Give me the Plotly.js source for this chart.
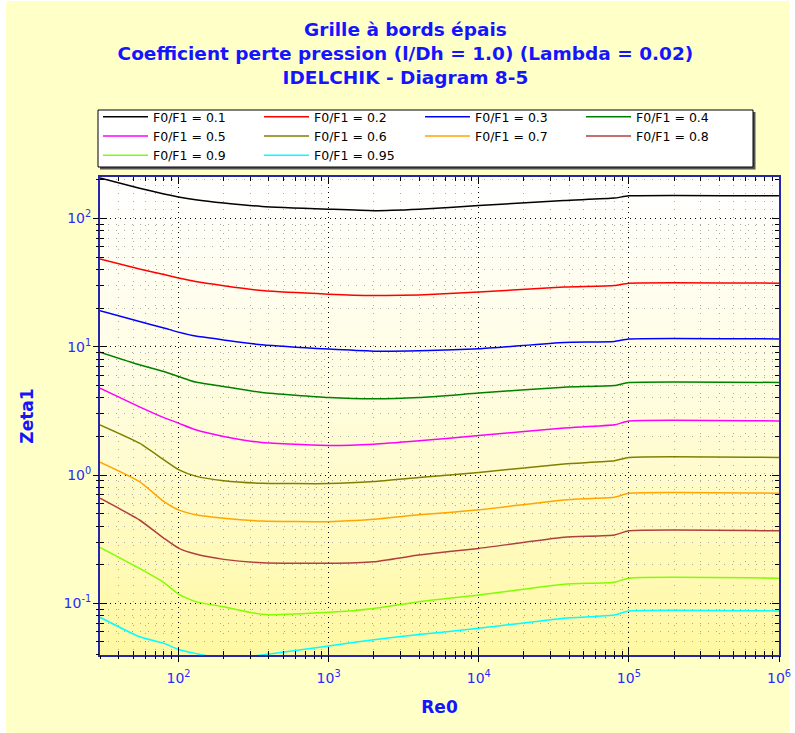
<!DOCTYPE html>
<html>
<head>
<meta charset="utf-8">
<script src="https://cdn.plot.ly/plotly-3.0.1.min.js"></script>
<style>
  html, body { margin:0; padding:0; background:#ffffff; }
  #bg { position:absolute; left:6px; top:1px; width:783px; height:732px; background:#FFFFC8; }
  #pa { position:absolute; left:100px; top:177px; width:679px; height:478px;
        background:linear-gradient(to bottom, #ffffff 0%, #fffde0 45%, #fff8a2 100%); }
  #chart { position:absolute; left:0; top:0; width:795px; height:733px; }
</style>
</head>
<body>
<div id="bg"></div>
<div id="pa"></div>
<div id="chart"></div>
<script>
// ---- data ----
const Re = [30, 55, 80, 100, 130, 200, 360, 1000, 2000, 4000, 10000, 37000, 80000, 100000, 1000000];
const ratioLabels = ['0.1', '0.2', '0.3', '0.4', '0.5', '0.6', '0.7', '0.8', '0.9', '0.95'];
const zeta_01  = [207, 172, 155, 147, 140, 132, 124, 118, 115, 118, 126, 138, 144, 150, 150];
const zeta_02  = [48.2, 40.3, 36.5, 34.3, 32.2, 29.9, 27.4, 25.7, 25.1, 25.3, 26.7, 29.2, 30.0, 31.3, 31.3];
const zeta_03  = [19.1, 15.7, 14.0, 13.0, 12.1, 11.3, 10.35, 9.58, 9.24, 9.3, 9.63, 10.8, 11.0, 11.5, 11.5];
const zeta_04  = [9.08, 7.23, 6.4, 5.86, 5.3, 4.90, 4.40, 4.02, 3.93, 4.02, 4.35, 4.84, 4.98, 5.26, 5.26];
const zeta_05  = [4.76, 3.4, 2.8, 2.54, 2.25, 2.0, 1.79, 1.70, 1.74, 1.85, 2.03, 2.32, 2.46, 2.64, 2.64];
const zeta_06  = [2.46, 1.77, 1.31, 1.10, 0.98, 0.904, 0.863, 0.857, 0.889, 0.955, 1.045, 1.22, 1.29, 1.37, 1.37];
const zeta_07  = [1.26, 0.889, 0.62, 0.535, 0.49, 0.46, 0.438, 0.433, 0.452, 0.489, 0.535, 0.64, 0.671, 0.721, 0.721];
const zeta_08  = [0.659, 0.446, 0.321, 0.269, 0.242, 0.220, 0.207, 0.205, 0.211, 0.238, 0.268, 0.327, 0.341, 0.367, 0.367];
const zeta_09  = [0.273, 0.187, 0.145, 0.118, 0.103, 0.094, 0.082, 0.085, 0.091, 0.103, 0.116, 0.141, 0.146, 0.157, 0.157];
const zeta_095 = [0.0778, 0.0548, 0.0487, 0.0437, 0.0407, 0.037, 0.0395, 0.0465, 0.052, 0.057, 0.0638, 0.0764, 0.0811, 0.0871, 0.0871];
const yTickVals = [0.1, 1, 10, 100];
const yTickText = ['10<sup>-1</sup>', '10<sup>0</sup>', '10<sup>1</sup>', '10<sup>2</sup>'];
const xTickVals = [100, 1000, 10000, 100000, 1000000];
const xTickText = ['10<sup>2</sup>', '10<sup>3</sup>', '10<sup>4</sup>', '10<sup>5</sup>', '10<sup>6</sup>'];

// ---- styles ----
const seriesValues = [zeta_01, zeta_02, zeta_03, zeta_04, zeta_05, zeta_06, zeta_07, zeta_08, zeta_09, zeta_095];
const colors = ['#000000', '#ff0000', '#0000ff', '#008000', '#ff00ff', '#808000', '#ffa500', '#b04040', '#7fff00', '#00ffff'];

const traces = seriesValues.map((vals, i) => ({
  x: Re, y: vals, type: 'scatter', mode: 'lines',
  name: 'F0/F1 = ' + ratioLabels[i],
  line: { color: colors[i], width: 1.5, shape: 'spline', smoothing: 0.5 }
}));
// dummy trace to create overlay axes used for outward tick halves
traces.push({ x: [Re[0]], y: [zeta_01[0]], xaxis: 'x2', yaxis: 'y2', mode: 'lines',
  showlegend: false, hoverinfo: 'skip', line: { color: 'rgba(0,0,0,0)' } });

function minorVals(lo, hi) {
  const v = [];
  for (let e = lo; e < hi; e++) for (let d = 2; d <= 9; d++) v.push(d * Math.pow(10, e));
  return v;
}
const xMinor = minorVals(1, 6).filter(v => v >= 30);
const yMinor = minorVals(-2, 3).filter(v => v >= 0.0395 && v <= 211);

const xr = [Math.log10(30), 6];
const yr = [-1.403, 2.323];
const axisBlue = '#2626a8';
const tickFont = { family: 'DejaVu Sans', size: 14, color: '#2a2aff' };
const titleFont = { family: 'DejaVu Sans', size: 17, color: '#1414ff', weight: 'bold' };

// legend frame (paper coords: plot spans x 100..779 px, y 177..655 px)
const px2x = p => (p - 100) / 679;
const px2y = p => (655 - p) / 478;

const layout = {
  width: 795, height: 733,
  margin: { l: 100, r: 16, t: 177, b: 78, pad: 0 },
  paper_bgcolor: 'rgba(0,0,0,0)', plot_bgcolor: 'rgba(0,0,0,0)',
  font: { family: 'DejaVu Sans', color: '#1414ff' },
  showlegend: true,
  title: {
    text: 'Grille à bords épais<br>Coefficient perte pression (l/Dh = 1.0) (Lambda = 0.02)<br>IDELCHIK - Diagram 8-5',
    font: { family: 'DejaVu Sans', size: 18.5, color: '#1414ff', weight: 'bold' },
    xref: 'container', x: 0.51, xanchor: 'center',
    yref: 'container', y: 0.951, yanchor: 'top'
  },
  shapes: [
    { type: 'rect', xref: 'paper', yref: 'paper', layer: 'above',
      x0: px2x(100), x1: px2x(755.5), y0: px2y(169.5), y1: px2y(112),
      fillcolor: '#555555', line: { width: 0 } },
    { type: 'rect', xref: 'paper', yref: 'paper', layer: 'above',
      x0: px2x(98), x1: px2x(753), y0: px2y(167), y1: px2y(110),
      fillcolor: '#ffffff', line: { color: '#000000', width: 1 } }
  ],
  xaxis: {
    type: 'log', range: xr, autorange: false,
    tickmode: 'array', tickvals: xTickVals, ticktext: xTickText,
    ticks: 'inside', ticklen: 7, tickwidth: 1, tickcolor: '#000',
    tickfont: tickFont, ticklabelstandoff: 9,
    showline: true, linecolor: axisBlue, linewidth: 2, mirror: 'allticks',
    showgrid: true, gridcolor: '#000', gridwidth: 1, griddash: '1px,4px',
    zeroline: false,
    minor: { tickmode: 'array', tickvals: xMinor, ticks: 'inside', ticklen: 4, tickcolor: '#000',
             showgrid: true, gridcolor: '#a8a8a8', gridwidth: 1, griddash: '1px,7px' },
    title: { text: 'Re0', font: titleFont, standoff: 16 }
  },
  yaxis: {
    type: 'log', range: yr, autorange: false,
    tickmode: 'array', tickvals: yTickVals, ticktext: yTickText,
    ticks: 'inside', ticklen: 7, tickwidth: 1, tickcolor: '#000',
    tickfont: tickFont, ticklabelstandoff: 4,
    showline: true, linecolor: axisBlue, linewidth: 2, mirror: 'allticks',
    showgrid: true, gridcolor: '#000', gridwidth: 1, griddash: '1px,4px',
    zeroline: false,
    minor: { tickmode: 'array', tickvals: yMinor, ticks: 'inside', ticklen: 4, tickcolor: '#000',
             showgrid: true, gridcolor: '#a8a8a8', gridwidth: 1, griddash: '1px,7px' },
    title: { text: 'Zeta1', font: titleFont, standoff: 26 }
  },
  xaxis2: {
    type: 'log', range: xr, autorange: false, overlaying: 'x', anchor: 'y2', side: 'bottom',
    tickmode: 'array', tickvals: xTickVals, ticks: 'outside', ticklen: 6, tickcolor: '#000',
    showticklabels: false, showgrid: false, showline: false, zeroline: false,
    minor: { tickmode: 'array', tickvals: xMinor, ticks: 'outside', ticklen: 3, tickcolor: '#000', showgrid: false }
  },
  yaxis2: {
    type: 'log', range: yr, autorange: false, overlaying: 'y', anchor: 'x2', side: 'left',
    tickmode: 'array', tickvals: yTickVals, ticks: 'outside', ticklen: 6, tickcolor: '#000',
    showticklabels: false, showgrid: false, showline: false, zeroline: false,
    minor: { tickmode: 'array', tickvals: yMinor, ticks: 'outside', ticklen: 3, tickcolor: '#000', showgrid: false }
  },
  legend: {
    orientation: 'h', x: px2x(98), xanchor: 'left', y: px2y(102), yanchor: 'top',
    bgcolor: 'rgba(0,0,0,0)', borderwidth: 0,
    font: { family: 'DejaVu Sans', size: 12.5, color: '#000000' },
    entrywidth: 101, entrywidthmode: 'pixels', itemwidth: 45, traceorder: 'normal'
  }
};

Plotly.newPlot('chart', traces, layout, { displayModeBar: false, staticPlot: true });
</script>
</body>
</html>
